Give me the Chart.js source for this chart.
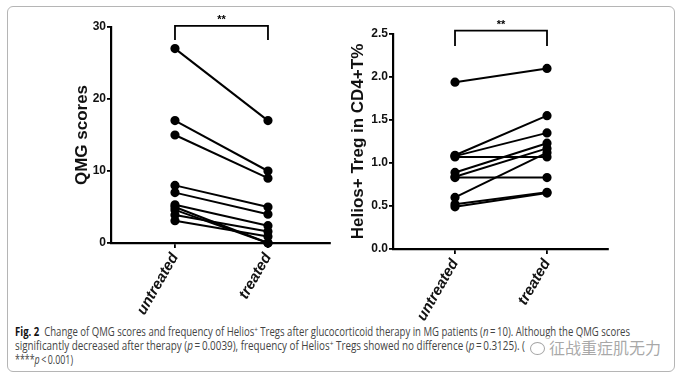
<!DOCTYPE html>
<html>
<head>
<meta charset="utf-8">
<script src="https://cdn.jsdelivr.net/npm/chart.js@4.4.1/dist/chart.umd.min.js"></script>
<style>
  html, body { margin:0; padding:0; background:#fff; }
  #wrap { position:relative; width:680px; height:381px; overflow:hidden; background:#fff; }
  #frame { position:absolute; left:7px; top:6px; width:668px; height:366px; border:1px solid #b5b5b5; border-radius:6px; box-sizing:border-box; }
  .cv { position:absolute; top:0; }
  .cap { position:absolute; left:15px; white-space:nowrap; font-family:'Open Sans','Noto Sans',sans-serif; font-size:12px; color:#444; transform-origin:0 50%; line-height:14px; }
  .cap b { color:#111; }
  .cap sup { font-size:8px; vertical-align:4px; line-height:0; }
  #wm { position:absolute; left:530px; top:337px; font-family:'Noto Sans CJK SC',sans-serif; font-size:16px; color:rgba(140,140,140,0.75); white-space:nowrap; line-height:20px; background:rgba(255,255,255,0.6); }
  #wm .ic { display:inline-block; width:13px; height:11px; border:1.3px solid rgba(140,140,140,0.8); border-radius:50%; margin-right:4px; vertical-align:-1px; }
</style>
</head>
<body>
<div id="wrap">
  <div id="frame"></div>
  <canvas id="c1" class="cv" style="left:0px" width="340" height="322"></canvas>
  <canvas id="c2" class="cv" style="left:340px" width="340" height="322"></canvas>
  <div class="cap" id="l1" style="top:325px" data-w="615"><b>Fig. 2</b>&nbsp; Change of QMG scores and frequency of Helios<sup>+</sup> Tregs after glucocorticoid therapy in MG patients (<i>n</i>&thinsp;=&thinsp;10). Although the QMG scores</div>
  <div class="cap" id="l2" style="top:339px" data-w="510">significantly decreased after therapy (<i>p</i>&thinsp;=&thinsp;0.0039), frequency of Helios<sup>+</sup> Tregs showed no difference (<i>p</i>&thinsp;=&thinsp;0.3125). (</div>
  <div class="cap" id="l3" style="top:353px" data-w="58">****<i>p</i>&thinsp;&lt;&thinsp;0.001)</div>
  <div id="wm"><span class="ic"></span>征战重症肌无力</div>
</div>
<script>
// ---- data ----
const categories = ['untreated', 'treated'];
const qmgUntreated = [27, 17, 15, 8, 7, 5.3, 5, 4.6, 3.9, 3.1];
const qmgTreated   = [17, 10, 9, 5, 4, 2.4, 0, 0, 1.6, 0.9];
const qmgTicks = [0, 10, 20, 30];
const heliosUntreated = [1.94, 1.09, 1.08, 1.07, 0.89, 0.84, 0.83, 0.60, 0.52, 0.49];
const heliosTreated   = [2.10, 1.55, 1.35, 1.07, 1.23, 1.17, 0.83, 1.12, 0.66, 0.65];
const heliosTicks = [0, 0.5, 1.0, 1.5, 2.0, 2.5];
const sigLabel = '**';

// fit caption lines
document.querySelectorAll('.cap').forEach(el => {
  const w = el.getBoundingClientRect().width;
  const target = +el.dataset.w;
  el.style.transform = 'scaleX(' + (target / w) + ')';
});

const titleFont = "'Liberation Sans',Arial,sans-serif";

function makeDatasets(u, t) {
  return u.map((v, i) => ({
    data: [{x: 0, y: v}, {x: 1, y: t[i]}],
    borderColor: '#000', backgroundColor: '#000',
    borderWidth: 2, pointRadius: 3.6, pointHoverRadius: 3.6,
    pointBackgroundColor: '#000', pointBorderColor: '#000',
    clip: false, tension: 0
  }));
}

const bracketPlugin = {
  id: 'bracket',
  afterDraw(chart, args, opts) {
    const {ctx, scales} = chart;
    const x0 = scales.x.getPixelForValue(0), x1 = scales.x.getPixelForValue(1);
    const yt = scales.y.getPixelForValue(opts.top), yb = scales.y.getPixelForValue(opts.bottom);
    ctx.save();
    ctx.strokeStyle = '#000'; ctx.lineWidth = 1.8;
    ctx.beginPath();
    ctx.moveTo(x0, yb); ctx.lineTo(x0, yt); ctx.lineTo(x1, yt); ctx.lineTo(x1, yb);
    ctx.stroke();
    ctx.fillStyle = '#000';
    ctx.font = "bold 11px " + titleFont;
    ctx.textAlign = 'center'; ctx.textBaseline = 'alphabetic';
    ctx.fillText(opts.label, (x0 + x1) / 2, yt - 3);
    ctx.restore();
  }
};

function makeChart(id, u, t, cfg) {
  return new Chart(document.getElementById(id), {
    type: 'line',
    data: { datasets: makeDatasets(u, t) },
    plugins: [bracketPlugin],
    options: {
      responsive: false, animation: false, devicePixelRatio: 1,
      layout: { padding: { left: cfg.padLeft, top: cfg.padTop, right: cfg.padRight, bottom: 0 } },
      plugins: { legend: { display: false }, tooltip: { enabled: false },
        bracket: { top: cfg.bTop, bottom: cfg.bBottom, label: sigLabel } },
      scales: {
        x: {
          type: 'linear', min: cfg.xmin, max: cfg.xmax,
          afterBuildTicks: s => { s.ticks = categories.map((c, i) => ({ value: i })); },
          afterFit: s => { s.height = cfg.xh; },
          ticks: { autoSkip: false, minRotation: 60, maxRotation: 60, padding: 2, color: '#111',
            font: { family: titleFont, size: 15, style: 'italic', weight: 'bold' },
            callback: v => categories[v] },
          grid: { display: true, drawOnChartArea: false, drawTicks: true, tickLength: 5, color: '#000', lineWidth: 1.8 },
          border: { display: true, color: '#000', width: 2.2 }
        },
        y: {
          min: cfg.ticks[0], max: cfg.ticks[cfg.ticks.length - 1],
          afterBuildTicks: s => { s.ticks = cfg.ticks.map(v => ({ value: v })); },
          afterFit: s => { s.width = cfg.yw; },
          ticks: { padding: 1, color: '#111', font: { family: titleFont, size: 12, weight: 'bold' },
            callback: cfg.fmt },
          grid: { display: true, drawOnChartArea: false, drawTicks: true, tickLength: 4, color: '#000', lineWidth: 1.8 },
          border: { display: true, color: '#000', width: 2.2 },
          title: { display: true, text: cfg.title, color: '#111', padding: 0,
            font: { family: titleFont, size: 17, weight: 'bold' } }
        }
      }
    }
  });
}

makeChart('c1', qmgUntreated, qmgTreated, {
  padLeft: 72, padTop: 27, padRight: 10, yw: 39, xh: 79,
  xmin: -0.688, xmax: 1.667, ticks: qmgTicks, fmt: v => String(v),
  title: 'QMG scores', bTop: 30.15, bBottom: 28.2
});
makeChart('c2', heliosUntreated, heliosTreated, {
  padLeft: 8, padTop: 34, padRight: 72, yw: 45, xh: 73,
  xmin: -0.674, xmax: 1.663, ticks: heliosTicks, fmt: v => v.toFixed(1),
  title: 'Helios+ Treg in CD4+T%', bTop: 2.54, bBottom: 2.36
});
</script>
</body>
</html>
